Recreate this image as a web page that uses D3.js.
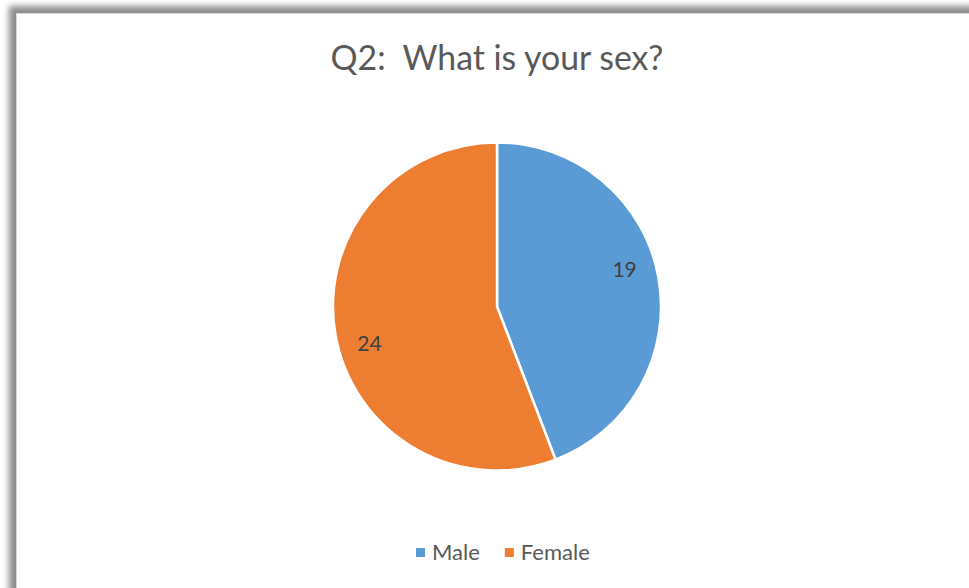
<!DOCTYPE html>
<html>
<head>
<meta charset="utf-8">
<script src="https://cdn.jsdelivr.net/npm/d3@7"></script>
<style>
  html, body { margin: 0; padding: 0; background: #ffffff; }
  svg { display: block; }
  text { white-space: pre; }
</style>
</head>
<body>
<svg id="chart" width="969" height="588"></svg>
<script>
// Survey answers for Q2
const categories = ["Male", "Female"];
const counts = [19, 24];
const colors = ["#5B9BD5", "#ED7D31"];
const title = "Q2:  What is your sex?";

const W = 969, H = 588;
const svg = d3.select("#chart");
const font = "Lato, 'Open Sans', 'Noto Sans', sans-serif";

// chart frame with an outer shadow
const defs = svg.append("defs");
const f = defs.append("filter").attr("id", "shadow")
  .attr("x", "-5%").attr("y", "-5%").attr("width", "110%").attr("height", "110%");
f.append("feDropShadow")
  .attr("dx", -7).attr("dy", -7).attr("stdDeviation", 3)
  .attr("flood-color", "#000").attr("flood-opacity", 0.45);

svg.append("rect")
  .attr("x", 16.5).attr("y", 13.5)
  .attr("width", W + 20).attr("height", H + 20)
  .attr("fill", "#ffffff")
  .attr("stroke", "#d9d9d9").attr("stroke-width", 1)
  .attr("filter", "url(#shadow)");

// title
const titleText = svg.append("text")
  .attr("x", 497).attr("y", 70)
  .attr("text-anchor", "middle")
  .attr("font-family", font)
  .attr("font-size", 28)
  .attr("fill", "#595959")
  .text(title);
// fit title width
const tw = titleText.node().getComputedTextLength();
titleText.attr("font-size", 28 * 333 / tw);

// pie
const cx = 497, cy = 306.5, r = 164;
const pie = d3.pie().sort(null).value(d => d.value).startAngle(0).endAngle(2 * Math.PI);
const data = categories.map((c, i) => ({ name: c, value: counts[i], color: colors[i] }));
const arcs = pie(data);
const arc = d3.arc().innerRadius(0).outerRadius(r);

const g = svg.append("g").attr("transform", `translate(${cx},${cy})`);
g.selectAll("path.slice").data(arcs).join("path")
  .attr("class", "slice")
  .attr("d", arc)
  .attr("fill", d => d.data.color)
  .attr("stroke", "#ffffff")
  .attr("stroke-width", 2.5)
  .attr("stroke-linejoin", "round");

// value labels inside each slice, slightly counter-clockwise of the mid angle
const labelR = r * 0.81, labelShift = -0.1;
g.selectAll("text.val").data(arcs).join("text")
  .attr("class", "val")
  .attr("transform", d => {
    const a = (d.startAngle + d.endAngle) / 2 + labelShift;
    return `translate(${labelR * Math.sin(a)},${-labelR * Math.cos(a)})`;
  })
  .attr("text-anchor", "middle")
  .attr("dy", "0.35em")
  .attr("font-family", font)
  .attr("font-size", 21)
  .attr("fill", "#404040")
  .text(d => d.data.value);

// legend
const legend = svg.append("g").attr("font-family", font).attr("font-size", 22).attr("fill", "#595959");
let lx = 416;
const ly = 560;
data.forEach(d => {
  legend.append("rect").attr("x", lx).attr("y", ly - 12).attr("width", 9).attr("height", 9).attr("fill", d.color);
  const t = legend.append("text").attr("x", lx + 16).attr("y", ly).text(d.name);
  lx += 16 + t.node().getComputedTextLength() + 25;
});
</script>
</body>
</html>
